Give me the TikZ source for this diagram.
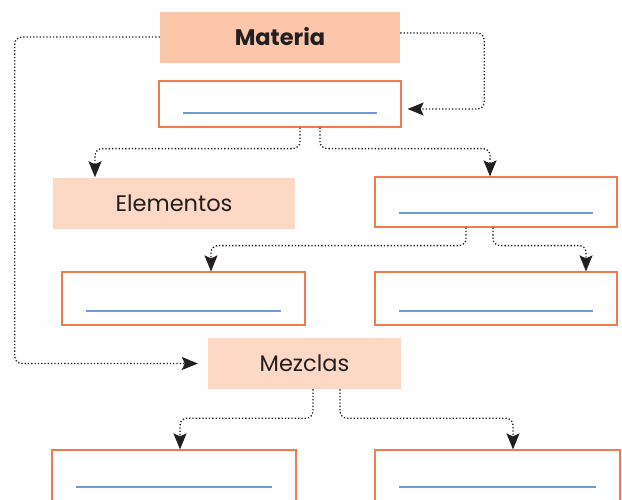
\documentclass[tikz,border=0pt]{standalone}
\usepackage{fontspec}
\setmainfont{Poppins}
\usetikzlibrary{arrows.meta,positioning}
\definecolor{peach}{HTML}{FBC6AA}
\definecolor{lightpeach}{HTML}{FDD9C5}
\definecolor{boxorange}{HTML}{F47A4E}
\definecolor{lineblue}{HTML}{6E9BD8}
\definecolor{ink}{HTML}{231F20}

\begin{document}
\begin{tikzpicture}[x=1pt,y=-1pt,% pixel grid, y grows downwards
			every node/.style={
				align=center,		% text centred in every box
				inner sep=0pt,
				text=ink,
				font=\fontsize{22.5}{24}\selectfont
			},
			title/.style={fill=peach,minimum width=240pt,minimum height=51pt,font=\fontsize{22.5}{24}\selectfont\bfseries},
			group/.style={fill=lightpeach,minimum height=51pt},
			blank/.style={% empty box with a line to write on
				draw=boxorange,line width=1.2pt,fill=white,minimum width=242pt,minimum height=50pt,
				path picture={\draw[lineblue,line width=1.1pt]
					([xshift=24pt,yshift=14pt]path picture bounding box.south west) --
					([xshift=-24pt,yshift=14pt]path picture bounding box.south east);}
			},
			link/.style={draw=ink,line width=1.3pt,dotted,rounded corners=7pt,
				-{Stealth[length=16pt,width=13pt,inset=3pt]}}
		]
		\useasboundingbox (0,0) rectangle (622,499);
		\node[title](R1) at (280,37){Materia};
		\node[blank,minimum height=46pt](R2) at (280,104){};
		\node[group,minimum width=242pt](R3) at (174,203){Elementos};
		\node[blank](R4) at (496,202){};
		\node[blank,minimum width=243pt,minimum height=53pt](R5) at (183.5,298.5){};
		\node[blank,minimum height=53pt](R6) at (496,298.5){};
		\node[group,minimum width=193pt](R7) at (304.5,363.5){Mezclas};
		\node[blank,minimum width=244pt,minimum height=51pt](R8) at (174,475.5){};
		\node[blank,minimum width=245pt,minimum height=51pt](R9) at (497.5,475.5){};
		% loops around the top box
		\draw[link,shorten >=10pt] (R1.west) -- ++(-145,0) |- (R7.west);
		\draw[link,shorten >=6pt] ([yshift=4pt]R1.east) -- ++(84,0) |- ([yshift=-5pt]R2.east);
		% branches
		\draw[link] ([xshift=20pt]R2.south) -- ++(0,21) -| ([xshift=-79pt]R3.north);
		\draw[link] ([xshift=40pt]R2.south) -- ++(0,21) -| ([xshift=-6pt]R4.north);
		\draw[link] ([xshift=-30pt]R4.south) -- ++(0,18) -| ([xshift=27.5pt]R5.north);
		\draw[link] ([xshift=-3pt]R4.south) -- ++(0,18) -| ([xshift=90pt]R6.north);
		\draw[link] ([xshift=8.5pt]R7.south) -- ++(0,29) -| ([xshift=6pt]R8.north);
		\draw[link] ([xshift=35.5pt]R7.south) -- ++(0,29) -| ([xshift=15.5pt]R9.north);
	\end{tikzpicture}
\end{document}
